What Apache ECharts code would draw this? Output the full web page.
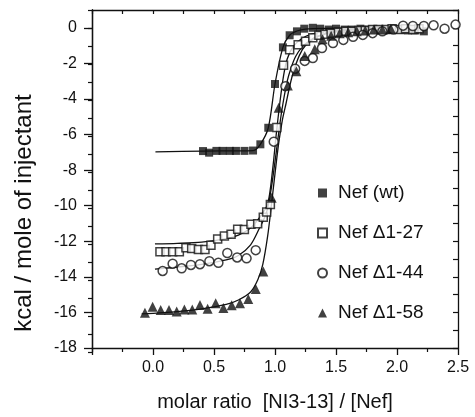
<!DOCTYPE html>
<html>
<head>
<meta charset="utf-8">
<script src="https://cdn.jsdelivr.net/npm/echarts@6/dist/echarts.min.js"></script>
<style>
  html, body { margin: 0; padding: 0; background: #fff; }
  #chart { width: 475px; height: 417px; }
</style>
</head>
<body>
<div id="chart"></div>
<script>
// tick labels
const xTicks = [0, 0.5, 1, 1.5, 2, 2.5]
const yTicks = [-18, -16, -14, -12, -10, -8, -6, -4, -2, 0]

// measured points [molar ratio, kcal/mol]
const wtPoints = [
  [0.41, -6.93], [0.46, -7.02], [0.52, -6.92], [0.57, -6.92], [0.63, -6.92], [0.68, -6.92],
  [0.75, -6.92], [0.82, -6.90], [0.88, -6.55], [0.945, -5.62], [1.0, -3.16], [1.065, -1.1],
  [1.12, -0.42], [1.18, -0.2], [1.24, -0.05], [1.31, 0.0], [1.37, -0.05], [1.44, -0.1],
  [1.5, -0.05], [1.57, -0.1], [1.63, -0.1], [1.7, -0.05], [1.76, -0.1], [1.83, -0.1],
  [1.89, -0.15], [1.96, -0.1], [2.02, -0.1], [2.09, -0.15], [2.15, -0.15], [2.22, -0.2]
]
const d27Points = [
  [0.057, -12.59], [0.107, -12.59], [0.161, -12.59], [0.216, -12.59], [0.27, -12.37],
  [0.317, -12.4], [0.372, -12.46], [0.426, -12.46], [0.475, -12.22], [0.53, -11.87],
  [0.585, -11.7], [0.64, -11.6], [0.694, -11.32], [0.749, -11.34], [0.803, -11.04],
  [0.858, -11.02], [0.904, -10.65], [0.932, -10.35], [0.962, -9.93], [1.015, -5.6],
  [1.07, -2.1], [1.12, -1.23], [1.19, -0.95], [1.25, -0.76], [1.31, -0.56], [1.36, -0.42],
  [1.41, -0.36], [1.46, -0.3], [1.52, -0.25], [1.58, -0.2], [1.63, -0.2], [1.69, -0.15],
  [1.74, -0.15], [1.8, -0.1], [1.85, -0.1], [1.91, -0.1], [1.96, -0.05], [2.02, -0.1],
  [2.07, -0.05], [2.13, -0.1], [2.18, -0.05]
]
const d44Points = [
  [0.079, -13.67], [0.161, -13.26], [0.235, -13.52], [0.311, -13.33], [0.385, -13.29],
  [0.462, -13.12], [0.536, -13.21], [0.609, -12.66], [0.69, -12.91], [0.767, -12.96],
  [0.842, -12.5], [0.99, -6.4], [1.085, -3.28], [1.165, -2.3], [1.244, -1.86], [1.31, -1.7],
  [1.385, -1.14], [1.475, -0.86], [1.56, -0.68], [1.64, -0.51], [1.72, -0.4], [1.8, -0.3],
  [1.88, -0.2], [1.97, -0.1], [2.05, 0.12], [2.13, 0.1], [2.22, 0.1], [2.3, 0.14],
  [2.39, -0.05], [2.48, 0.18]
]
const d58Points = [
  [-0.066, -16.02], [-0.003, -15.68], [0.063, -15.87], [0.131, -15.87], [0.194, -15.95],
  [0.257, -15.84], [0.322, -15.84], [0.385, -15.58], [0.448, -15.79], [0.514, -15.49],
  [0.577, -15.75], [0.645, -15.59], [0.713, -15.49], [0.781, -15.25], [0.842, -14.69],
  [0.904, -13.7], [0.973, -9.55], [1.03, -4.5], [1.105, -3.25], [1.175, -2.45],
  [1.244, -1.58], [1.326, -1.21], [1.39, -0.65], [1.46, -0.45], [1.53, -0.3], [1.6, -0.25],
  [1.67, -0.2], [1.74, -0.15], [1.81, -0.1], [1.88, -0.1], [1.95, -0.05]
]

// fitted curves
const wtFit = [
  [0.02, -6.98], [0.41, -6.93], [0.82, -6.9], [0.88, -6.55], [0.945, -5.62], [1.0, -3.16],
  [1.065, -1.1], [1.12, -0.42], [1.18, -0.18], [1.25, -0.07], [1.4, -0.03], [2.2, 0.0]
]
const d27Fit = [
  [0.016, -12.15], [0.2, -12.12], [0.4, -12.05], [0.6, -11.85], [0.7, -11.65], [0.8, -11.25],
  [0.88, -10.6], [0.94, -9.9], [0.98, -8.0], [1.01, -6.0], [1.04, -4.2], [1.07, -2.7],
  [1.1, -1.75], [1.15, -1.05], [1.22, -0.6], [1.3, -0.35], [1.45, -0.15], [1.7, -0.05], [2.2, 0.0]
]
const d44Fit = [
  [0.016, -13.57], [0.2, -13.45], [0.4, -13.3], [0.6, -13.05], [0.7, -12.8], [0.8, -12.2],
  [0.87, -11.3], [0.93, -10.4], [0.97, -9.0], [1.01, -7.0], [1.04, -5.4], [1.065, -4.27],
  [1.1, -3.0], [1.133, -2.23], [1.17, -1.6], [1.22, -1.1], [1.28, -0.75], [1.35, -0.47],
  [1.5, -0.2], [1.7, -0.08], [2.2, 0.0]
]
const d58Fit = [
  [-0.093, -16.08], [0.2, -15.95], [0.4, -15.8], [0.6, -15.55], [0.7, -15.3], [0.8, -14.85],
  [0.86, -14.15], [0.9, -13.3], [0.94, -11.7], [0.97, -10.0], [1.0, -8.2], [1.03, -6.5],
  [1.06, -5.2], [1.09, -4.27], [1.12, -3.3], [1.15, -2.5], [1.2, -1.55], [1.25, -1.0],
  [1.35, -0.5], [1.5, -0.2], [1.7, -0.08], [2.2, 0.0]
]

const font = 'Liberation Sans, Arial, sans-serif'
const ink = '#111'
const plotBox = { left: 92, right: 17, top: 10, bottom: 65 }

const myChart = echarts.init(document.getElementById('chart'), null, { renderer: 'canvas' })

const fitLine = (data) => ({
  type: 'line',
  data,
  symbol: 'none',
  smooth: 0.3,
  silent: true,
  z: 2,
  lineStyle: { color: ink, width: 1.3 }
})

const marks = (name, data, symbol, size, filled) => ({
  name,
  type: 'scatter',
  data,
  symbol,
  symbolSize: size,
  z: 5,
  itemStyle: filled
    ? { color: ink }
    : { color: '#fff', borderColor: ink, borderWidth: 1.5 }
})

const option = {
  animation: false,
  backgroundColor: '#fff',
  // second grid only carries the short left ticks
  grid: [plotBox, plotBox],
  legend: {
    orient: 'vertical',
    left: 312,
    top: 178,
    itemWidth: 9,
    itemHeight: 9,
    itemGap: 20,
    data: ['Nef (wt)', 'Nef Δ1-27', 'Nef Δ1-44', 'Nef Δ1-58'],
    textStyle: { fontFamily: font, fontSize: 19, color: ink, lineHeight: 20, padding: [0, 0, 0, 6] }
  },
  xAxis: [
    {
      type: 'value',
      position: 'bottom',
      min: -0.5,
      max: 2.5,
      interval: 0.5,
      name: 'molar ratio  [NI3-13] / [Nef]',
      nameLocation: 'middle',
      nameGap: 44,
      nameTextStyle: { fontFamily: font, fontSize: 20, color: ink },
      axisLine: { onZero: false, lineStyle: { color: ink, width: 1.3 } },
      axisTick: { inside: false, length: 7, lineStyle: { color: ink, width: 1.3 } },
      minorTick: { show: true, splitNumber: 2, length: 4, lineStyle: { color: ink, width: 1.2 } },
      axisLabel: {
        customValues: xTicks,
        margin: 12,
        fontFamily: font,
        fontSize: 16,
        color: ink,
        formatter: (v) => v.toFixed(1)
      },
      splitLine: { show: false }
    },
    {
      type: 'value',
      position: 'top',
      min: -0.5,
      max: 2.5,
      interval: 0.25,
      axisLine: { onZero: false, lineStyle: { color: ink, width: 1.3 } },
      axisTick: { inside: true, length: 4, lineStyle: { color: ink, width: 1.2 } },
      axisLabel: { show: false },
      splitLine: { show: false }
    },
    {
      type: 'value',
      gridIndex: 1,
      min: -0.5,
      max: 2.5,
      show: false
    }
  ],
  yAxis: [
    {
      type: 'value',
      position: 'left',
      min: -18,
      max: 1,
      interval: 1,
      name: 'kcal / mole of injectant',
      nameLocation: 'middle',
      nameRotate: 90,
      nameGap: 56,
      nameTextStyle: { fontFamily: font, fontSize: 24, color: ink, padding: [0, 68, 0, 0] },
      axisLine: { onZero: false, lineStyle: { color: ink, width: 1.3 } },
      axisTick: { customValues: yTicks, inside: false, length: 8, lineStyle: { color: ink, width: 1.3 } },
      axisLabel: {
        customValues: yTicks,
        margin: 15,
        fontFamily: font,
        fontSize: 16,
        color: ink
      },
      splitLine: { show: false }
    },
    {
      type: 'value',
      position: 'right',
      min: -18,
      max: 1,
      interval: 1,
      axisLine: { onZero: false, lineStyle: { color: ink, width: 1.3 } },
      axisTick: { inside: true, length: 5, lineStyle: { color: ink, width: 1.2 } },
      axisLabel: { show: false },
      splitLine: { show: false }
    },
    {
      type: 'value',
      gridIndex: 1,
      position: 'left',
      min: -18,
      max: 1,
      interval: 1,
      axisLine: { onZero: false, lineStyle: { color: ink, width: 1.3 } },
      axisTick: { inside: false, length: 4, lineStyle: { color: ink, width: 1.2 } },
      axisLabel: { show: false },
      splitLine: { show: false }
    }
  ],
  series: [
    fitLine(wtFit),
    fitLine(d27Fit),
    fitLine(d44Fit),
    fitLine(d58Fit),
    marks('Nef (wt)', wtPoints, 'rect', 8, true),
    marks('Nef Δ1-27', d27Points, 'rect', 8, false),
    marks('Nef Δ1-44', d44Points, 'circle', 9, false),
    marks('Nef Δ1-58', d58Points, 'triangle', 10, true)
  ]
}

myChart.setOption(option)
</script>
</body>
</html>
